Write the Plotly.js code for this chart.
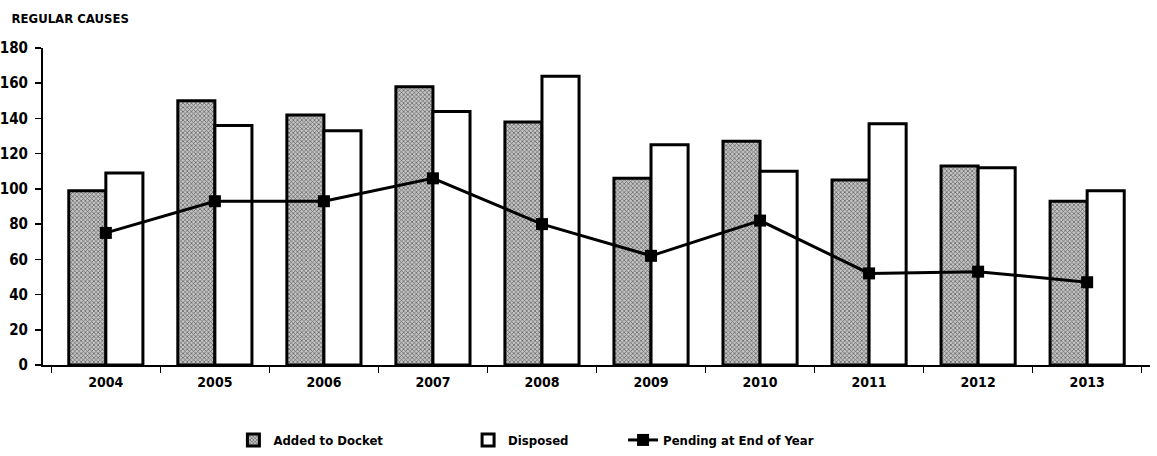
<!DOCTYPE html>
<html>
<head>
<meta charset="utf-8">
<script src="https://cdn.plot.ly/plotly-3.0.1.min.js"></script>
<style>
  html, body { margin: 0; padding: 0; background: #fff; }
  #chart { width: 1157px; height: 456px; }
</style>
</head>
<body>
<div id="chart"></div>
<script>
// Regular causes per fiscal year
const years = ['2004', '2005', '2006', '2007', '2008', '2009', '2010', '2011', '2012', '2013'];
const added = [99, 150, 142, 158, 138, 106, 127, 105, 113, 93];
const disposed = [109, 136, 133, 144, 164, 125, 110, 137, 112, 99];
const pending = [75, 93, 93, 106, 80, 62, 82, 52, 53, 47];

const FONT = '"DejaVu Sans Condensed", "DejaVu Sans", sans-serif';
const txt = (size) => ({ family: FONT, size: size, color: '#000', weight: 'bold' });

const traces = [
  {
    type: 'bar',
    name: 'Added to Docket',
    legend: 'legend',
    x: years,
    y: added,
    marker: {
      color: '#a8a8a8',
      pattern: { shape: 'x', fgcolor: '#5a5a5a', bgcolor: '#c4c4c4', size: 3, solidity: 0.4 },
      line: { color: '#000', width: 3 }
    },
    hoverinfo: 'skip'
  },
  {
    type: 'bar',
    name: 'Disposed',
    legend: 'legend2',
    x: years,
    y: disposed,
    marker: { color: '#fff', line: { color: '#000', width: 3 } },
    hoverinfo: 'skip'
  },
  {
    type: 'scatter',
    mode: 'lines+markers',
    name: 'Pending at End of Year',
    legend: 'legend3',
    x: years,
    y: pending,
    line: { color: '#000', width: 3 },
    marker: { symbol: 'square', size: 12, color: '#000' },
    hoverinfo: 'skip'
  }
];

// Each legend entry sits on its own, spaced along the bottom of the figure
const legendAt = (x) => ({
  orientation: 'h',
  x: x,
  xanchor: 'left',
  y: 0.068,
  yref: 'container',
  yanchor: 'top',
  font: txt(13),
  bgcolor: 'rgba(0,0,0,0)'
});

const layout = {
  width: 1157,
  height: 456,
  margin: { l: 43, r: 7, t: 48, b: 91, autoexpand: false },
  paper_bgcolor: '#fff',
  plot_bgcolor: '#fff',
  font: txt(13),
  barmode: 'group',
  bargap: 0.32,
  bargroupgap: 0,
  showlegend: true,
  legend: legendAt(0.172),
  legend2: legendAt(0.384),
  legend3: legendAt(0.524),
  title: {
    text: 'REGULAR CAUSES',
    x: 0.01,
    xref: 'container',
    xanchor: 'left',
    y: 0.97,
    yref: 'container',
    yanchor: 'top',
    font: txt(13)
  },
  xaxis: {
    type: 'category',
    automargin: false,
    showgrid: false,
    zeroline: false,
    showline: true,
    linecolor: '#000',
    linewidth: 2,
    ticks: 'outside',
    tickson: 'boundaries',
    ticklen: 6,
    tickwidth: 1.5,
    tickcolor: '#000',
    ticklabelstandoff: 3,
    tickfont: txt(14),
    fixedrange: true
  },
  yaxis: {
    range: [0, 180],
    dtick: 20,
    automargin: false,
    showgrid: false,
    zeroline: false,
    showline: true,
    linecolor: '#000',
    linewidth: 2,
    ticks: 'outside',
    ticklen: 6,
    tickwidth: 1.5,
    tickcolor: '#000',
    ticklabelstandoff: 4,
    tickfont: txt(15),
    fixedrange: true
  }
};

Plotly.newPlot('chart', traces, layout, { displayModeBar: false, staticPlot: true });
</script>
</body>
</html>
